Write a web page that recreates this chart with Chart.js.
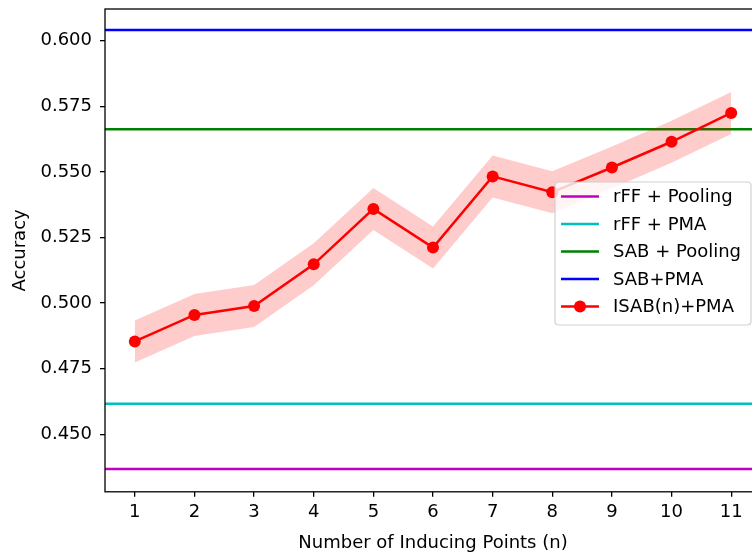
<!DOCTYPE html>
<html>
<head>
<meta charset="utf-8">
<script src="https://cdn.jsdelivr.net/npm/chart.js@4/dist/chart.umd.min.js"></script>
<style>
  html, body { margin: 0; padding: 0; background: #fff; overflow: hidden; }
  #wrap { width: 770px; height: 557px; }
</style>
</head>
<body>
<div id="wrap"><canvas id="myChart"></canvas></div>
<script>
// data
const inducingPoints = [1, 2, 3, 4, 5, 6, 7, 8, 9, 10, 11];
const isabPma = [0.4854, 0.4955, 0.4989, 0.5148, 0.5359, 0.5212, 0.5483, 0.5423, 0.5517, 0.5615, 0.5725];
const isabStd = [0.008, 0.008, 0.008, 0.008, 0.008, 0.008, 0.008, 0.008, 0.008, 0.008, 0.008];

const baselineLabels = ['rFF + Pooling', 'rFF + PMA', 'SAB + Pooling', 'SAB+PMA'];
const baselineValues = [0.4368, 0.4617, 0.5663, 0.6041];
const baselineColors = ['#bf00bf', '#00bfbf', '#008000', '#0000ff'];

const xTicks = [1, 2, 3, 4, 5, 6, 7, 8, 9, 10, 11];
const yTicks = [0.450, 0.475, 0.500, 0.525, 0.550, 0.575, 0.600];
const xRange = [0.5, 11.5];
const yRange = [0.4281, 0.6121];

const FONT = { family: 'DejaVu Sans', size: 18 };

// matplotlib-like frame around the axes
const frame = {
  id: 'frame',
  afterDatasetsDraw(chart) {
    const { ctx, chartArea: a } = chart;
    ctx.save();
    ctx.strokeStyle = '#000';
    ctx.lineWidth = 1.3;
    ctx.strokeRect(a.left, a.top, a.right - a.left, a.bottom - a.top);
    ctx.restore();
  }
};

// legend box inside the plot (upper right area)
const boxLegend = {
  id: 'boxLegend',
  afterDraw(chart) {
    const ctx = chart.ctx;
    const items = chart.data.datasets.filter(d => d.label);
    const x = 555, y = 182, w = 196, h = 143, r = 4;
    ctx.save();
    ctx.beginPath();
    ctx.moveTo(x + r, y);
    ctx.lineTo(x + w - r, y);
    ctx.quadraticCurveTo(x + w, y, x + w, y + r);
    ctx.lineTo(x + w, y + h - r);
    ctx.quadraticCurveTo(x + w, y + h, x + w - r, y + h);
    ctx.lineTo(x + r, y + h);
    ctx.quadraticCurveTo(x, y + h, x, y + h - r);
    ctx.lineTo(x, y + r);
    ctx.quadraticCurveTo(x, y, x + r, y);
    ctx.closePath();
    ctx.fillStyle = 'rgba(255,255,255,0.8)';
    ctx.fill();
    ctx.strokeStyle = 'rgba(204,204,204,0.9)';
    ctx.lineWidth = 1.2;
    ctx.stroke();

    ctx.font = FONT.size + 'px ' + FONT.family;
    ctx.textBaseline = 'middle';
    items.forEach((d, i) => {
      const cy = y + 14.5 + i * 27.5;
      ctx.strokeStyle = d.borderColor;
      ctx.lineWidth = 2.5;
      ctx.beginPath();
      ctx.moveTo(x + 6, cy);
      ctx.lineTo(x + 44, cy);
      ctx.stroke();
      if (d.pointRadius > 0) {
        ctx.fillStyle = d.pointBackgroundColor;
        ctx.beginPath();
        ctx.arc(x + 25, cy, d.pointRadius, 0, Math.PI * 2);
        ctx.fill();
      }
      ctx.fillStyle = '#000';
      ctx.fillText(d.label, x + 58, cy + 1);
    });
    ctx.restore();
  }
};

const datasets = [];

baselineValues.forEach((v, i) => {
  datasets.push({
    label: baselineLabels[i],
    data: [{ x: xRange[0], y: v }, { x: xRange[1], y: v }],
    borderColor: baselineColors[i],
    borderWidth: 2.5,
    pointRadius: 0,
    fill: false,
    order: 5
  });
});

datasets.push({
  label: 'ISAB(n)+PMA',
  data: inducingPoints.map((n, i) => ({ x: n, y: isabPma[i] })),
  borderColor: '#ff0000',
  borderWidth: 2.5,
  pointRadius: 6,
  pointBackgroundColor: '#ff0000',
  pointBorderWidth: 0,
  fill: false,
  order: 1
});

// std band
datasets.push({
  data: inducingPoints.map((n, i) => ({ x: n, y: isabPma[i] + isabStd[i] })),
  borderWidth: 0,
  borderColor: 'rgba(0,0,0,0)',
  pointRadius: 0,
  backgroundColor: 'rgba(255,0,0,0.2)',
  fill: '+1',
  order: 3
});
datasets.push({
  data: inducingPoints.map((n, i) => ({ x: n, y: isabPma[i] - isabStd[i] })),
  borderWidth: 0,
  borderColor: 'rgba(0,0,0,0)',
  pointRadius: 0,
  fill: false,
  order: 3
});

const ctx = document.getElementById('myChart').getContext('2d');
new Chart(ctx, {
  type: 'line',
  data: { datasets: datasets },
  options: {
    responsive: true,
    maintainAspectRatio: false,
    animation: false,
    layout: { padding: { top: 9, right: 9, bottom: 0, left: 0 } },
    plugins: {
      legend: { display: false },
      tooltip: { enabled: false }
    },
    scales: {
      x: {
        type: 'linear',
        min: xRange[0],
        max: xRange[1],
        afterBuildTicks: s => { s.ticks = xTicks.map(v => ({ value: v })); },
        afterFit: s => { s.paddingLeft = 0; s.paddingRight = 0; },
        ticks: { color: '#000', font: FONT, padding: 5, maxRotation: 0,
                 callback: v => String(v) },
        grid: { drawOnChartArea: false, tickLength: 5, color: '#000', lineWidth: 1.3 },
        border: { display: false },
        title: { display: true, text: 'Number of Inducing Points (n)', color: '#000',
                 font: FONT, padding: { top: 4, bottom: 3 } }
      },
      y: {
        min: yRange[0],
        max: yRange[1],
        afterBuildTicks: s => { s.ticks = yTicks.map(v => ({ value: v })); },
        afterFit: s => { s.width = 105; s.paddingTop = 0; s.paddingBottom = 0; },
        ticks: { color: '#000', font: FONT, padding: 8,
                 callback: v => v.toFixed(3) },
        grid: { drawOnChartArea: false, tickLength: 5, color: '#000', lineWidth: 1.3 },
        border: { display: false },
        title: { display: true, text: 'Accuracy', color: '#000',
                 font: FONT, padding: { top: 10, bottom: 0 } }
      }
    }
  },
  plugins: [frame, boxLegend]
});
</script>
</body>
</html>
